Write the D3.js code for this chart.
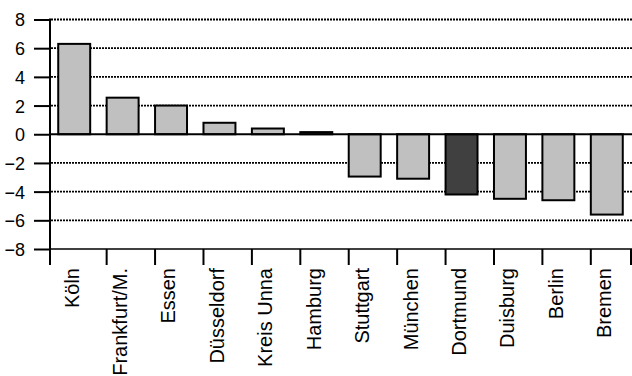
<!DOCTYPE html>
<html><head><meta charset="utf-8">
<script src="https://cdn.jsdelivr.net/npm/d3@7/dist/d3.min.js"></script>
<style>body{margin:0;background:#fff}svg{display:block}text{font-family:"Liberation Sans",Arial,sans-serif;fill:#000}</style>
</head><body>
<script>
const categories = ["Köln","Frankfurt/M.","Essen","Düsseldorf","Kreis Unna","Hamburg","Stuttgart","München","Dortmund","Duisburg","Berlin","Bremen"];
const values = [6.3, 2.55, 2.0, 0.8, 0.4, 0.15, -2.95, -3.1, -4.2, -4.5, -4.6, -5.6];
const highlight = ["Dortmund"];
const yTicks = [8, 6, 4, 2, 0, -2, -4, -6, -8];
const gridTicks = [8, 6, 4, 2, -2, -4, -6];

const W = 632, H = 376;
const svg = d3.select("body").append("svg").attr("width", W).attr("height", H);

const x = d3.scaleBand().domain(categories).range([50, 631]).paddingInner(0.34).paddingOuter(0.17);
const y = d3.scaleLinear().domain([-8, 8]).range([249, 19.5]);

// grid
svg.append("g").selectAll("line").data(gridTicks).join("line")
  .attr("x1", 51).attr("x2", W).attr("y1", d => y(d)).attr("y2", d => y(d))
  .attr("stroke", "#000").attr("stroke-width", 1.8).attr("stroke-dasharray", "2,1");

// bottom axis line (at -8)
svg.append("line").attr("x1", 50).attr("x2", W).attr("y1", y(-8)).attr("y2", y(-8))
  .attr("stroke", "#000").attr("stroke-width", 1.5);

// bars
svg.append("g").selectAll("rect").data(categories).join("rect")
  .attr("x", d => x(d))
  .attr("width", x.bandwidth())
  .attr("y", (d, i) => y(Math.max(0, values[i])))
  .attr("height", (d, i) => Math.abs(y(values[i]) - y(0)))
  .attr("fill", d => highlight.includes(d) ? "#404040" : "#c0c0c0")
  .attr("stroke", "#000").attr("stroke-width", 2);

// zero line
svg.append("line").attr("x1", 50).attr("x2", W).attr("y1", y(0)).attr("y2", y(0))
  .attr("stroke", "#000").attr("stroke-width", 2);

// y axis
const yAxis = d3.axisLeft(y).tickValues(yTicks).tickSize(16).tickPadding(8).tickFormat(d3.format("d"));
const gy = svg.append("g").attr("transform", "translate(50,0)").call(yAxis);
gy.attr("font-size", 18).attr("font-family", "'Liberation Sans', Arial, sans-serif");
gy.select(".domain").remove();
gy.selectAll(".tick line").attr("stroke", "#000").attr("stroke-width", 2);
gy.selectAll(".tick text").style("font-size", "18px").attr("x", -25).attr("dy", "0.36em");
svg.append("line").attr("x1", 50).attr("x2", 50).attr("y1", y(8) - 1).attr("y2", 265)
  .attr("stroke", "#000").attr("stroke-width", 2);

// x axis ticks at band boundaries
svg.append("g").selectAll("line").data(categories).join("line")
  .attr("x1", d => Math.min(x(d) + x.bandwidth() + x.step() * x.paddingInner(), W - 1))
  .attr("x2", d => Math.min(x(d) + x.bandwidth() + x.step() * x.paddingInner(), W - 1))
  .attr("y1", y(-8)).attr("y2", 265)
  .attr("stroke", "#000").attr("stroke-width", 2);

// x labels
svg.append("g").selectAll("text").data(categories).join("text")
  .attr("transform", d => `translate(${x(d) + x.bandwidth() / 2},268) rotate(-90)`)
  .attr("text-anchor", "end").attr("dy", "0.22em")
  .style("font-size", "20px")
  .text(d => d);
</script>
</body></html>
